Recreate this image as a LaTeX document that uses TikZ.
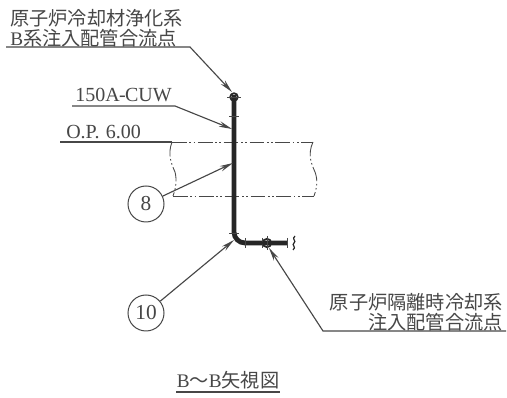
\documentclass[tikz,border=0pt]{standalone}
\usepackage{fontspec}
\setmainfont{Liberation Serif}
\newfontfamily\cjk{Noto Sans CJK JP}
\usetikzlibrary{arrows.meta}
\definecolor{ink}{gray}{0.15}
\tikzset{
  lead/.style={draw=ink!85,line width=0.85pt},
  arrowlead/.style={lead,-{Stealth[length=10pt,width=4.2pt]}},
  label/.style={text=ink!85,inner sep=0pt,font=\fontsize{14.4pt}{17pt}\selectfont\cjk},
  latin/.style={text=ink!85,inner sep=0pt,font=\fontsize{15pt}{17pt}\selectfont},
  balloon/.style={circle,draw=ink!85,line width=0.75pt,minimum size=27pt,inner sep=0pt,text=ink!85,font=\fontsize{16pt}{18pt}\selectfont},
  pipe/.style={draw=ink,line width=3.6pt},
  wall/.style={draw=ink!85,line width=0.65pt,dash pattern=on 11pt off 2pt on 1.2pt off 2pt on 1.2pt off 2pt},
  thin/.style={draw=ink!85,line width=0.7pt},
}
\begin{document}
\begin{tikzpicture}[x=0.75pt,y=-0.75pt]
\useasboundingbox (0,0) rectangle (507,398);
\fill[white] (0,0) rectangle (507,398);
% texts
\node[label,anchor=west] (t1) at (10,18) {原子炉冷却材浄化系};
\node[label,anchor=west] (t2) at (10,38) {{\rmfamily B}系注入配管合流点};
\node[latin,anchor=west] (t3) at (75,95) {150A\kern-0.5pt-\kern-0.5pt CUW};
\node[latin,anchor=west] (t4) at (66,132) {O.P.\kern1pt\ 6.00};
\node[label,anchor=east] (t5) at (503,302) {原子炉隔離時冷却系};
\node[label,anchor=east] (t6) at (503,322) {注入配管合流点};
\node[label,anchor=center,font=\fontsize{14.4pt}{16pt}\selectfont\cjk] (t7) at (228,380) {{\rmfamily B}〜{\rmfamily B}矢視図};
\coordinate (u1) at (176,392); \coordinate (u2) at (280,392);
\draw[lead] (u1) -- (u2);
% balloons
\node[balloon] (c8) at (146,204) {8};
\node[balloon] (c10) at (146,313) {10};
% pipe points
\coordinate (top) at (234,95);
\coordinate (bend) at (234,232);
\coordinate (end) at (287,243);
\coordinate (valve1) at (234,97);
\coordinate (valve2) at (267,243);
% wall
\coordinate (wa) at (172,142); \coordinate (wb) at (313,142);
\coordinate (wc) at (173,196); \coordinate (wd) at (314,196);
\draw[wall] (wa) -- (wb);
\draw[wall] (wc) -- (wd);
\draw[wall] (wa) .. controls (167,155) and (172,165) .. (175,172) .. controls (177,180) and (176,188) .. (wc);
\draw[wall] (wb) .. controls (307,155) and (312,165) .. (315,172) .. controls (318,180) and (317,188) .. (wd);
% pipe
\draw[pipe] (top) -- (bend) arc[start angle=180,end angle=90,radius=11] -- (end);
% ticks
\draw[thin] (229,116) -- (239,116);
\draw[thin] (229,233) -- (239,233);
\draw[thin] (245,238) -- (245,248);
\draw[thin] (262,238) -- (262,248);
\draw[thin] (287,238) -- (287,248);
% symbols
\draw[ink,line width=1.3pt] (valve1) circle[radius=3.8];
\draw[thin] (227,97) -- (241,97);
\draw[ink,line width=1.3pt] (valve2) circle[radius=4.2];
\draw[thin] (267,236) -- (267,250);
\draw[ink,line width=0.9pt] (295,236) .. controls (291,239) and (297,241) .. (294,243) .. controls (291,245) and (297,247) .. (293,250);
% leaders
\coordinate (l1a) at (6,47); \coordinate (l1b) at (190,47);
\draw[arrowlead] (l1a) -- (l1b) -- (232,92);
\coordinate (l2a) at (72,106); \coordinate (l2b) at (175,106);
\draw[arrowlead] (l2a) -- (l2b) -- (232,129);
\coordinate (l3a) at (60,142);
\draw[lead] (l3a) -- (wa);
\draw[arrowlead] (c8) -- (233,163);
\draw[arrowlead] (c10) -- (234,240);
\coordinate (l4a) at (506,331); \coordinate (l4b) at (323,331);
\draw[arrowlead] (l4a) -- (l4b) -- (269,248);
\end{tikzpicture}
\end{document}
